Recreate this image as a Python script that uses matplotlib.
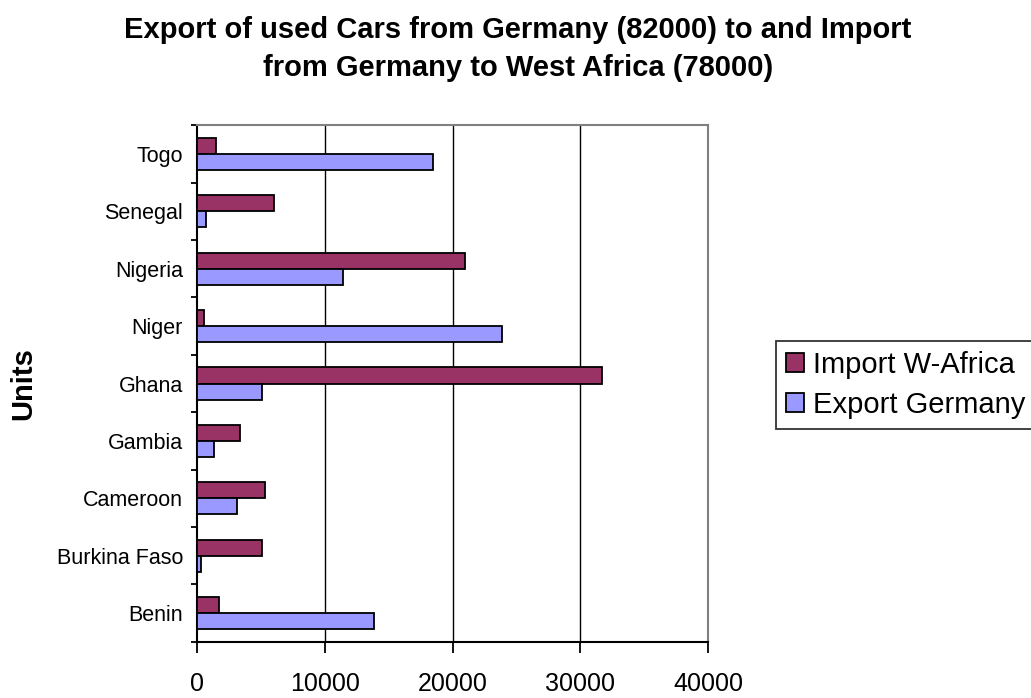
import matplotlib
matplotlib.use("Agg")
import matplotlib.pyplot as plt
import numpy as np

plt.rcParams['font.family'] = ['Liberation Sans', 'DejaVu Sans']

# data (units)
countries = ["Benin", "Burkina Faso", "Cameroon", "Gambia", "Ghana",
             "Niger", "Nigeria", "Senegal", "Togo"]
import_w_africa = [1700, 5100, 5300, 3400, 31700, 570, 21000, 6000, 1500]
export_germany = [13850, 280, 3100, 1350, 5100, 23900, 11400, 700, 18500]
x_ticks = [0, 10000, 20000, 30000, 40000]

fig = plt.figure(figsize=(10.31, 6.98), dpi=100)
ax = fig.add_axes([197 / 1031, 1 - 641.7 / 698, 511 / 1031, 516.4 / 698])

y = np.arange(len(countries))
bar_h = 0.28
ax.barh(y + bar_h / 2, import_w_africa, height=bar_h, color="#993366",
        edgecolor="black", linewidth=1.3, label="Import W-Africa", zorder=3)
ax.barh(y - bar_h / 2, export_germany, height=bar_h, color="#9999FF",
        edgecolor="black", linewidth=1.3, label="Export Germany", zorder=3)

ax.set_xlim(0, 40000)
ax.set_ylim(-0.5, len(countries) - 0.5)

# vertical gridlines
for v in x_ticks[1:-1]:
    ax.axvline(v, color="black", linewidth=1.0, zorder=1)

ax.set_xticks(x_ticks)
ax.set_xticklabels([str(v) for v in x_ticks], fontsize=18)
ax.tick_params(axis="x", direction="out", length=8, width=1.3, pad=14)

# category boundaries as major ticks, names on minor ticks
ax.set_yticks(np.arange(-0.5, len(countries), 1.0))
ax.set_yticklabels([])
ax.set_yticks(y, minor=True)
ax.set_yticklabels(countries, minor=True, fontsize=15.5)
ax.tick_params(axis="y", which="major", direction="out", length=4.5, width=1.3)
ax.tick_params(axis="y", which="minor", length=0, pad=10)

for side in ("left", "bottom"):
    ax.spines[side].set_color("black")
    ax.spines[side].set_linewidth(1.5)
for side in ("top", "right"):
    ax.spines[side].set_color("#808080")
    ax.spines[side].set_linewidth(1.5)

fig.text(23 / 1031, 1 - 384 / 698, "Units", rotation=90, fontsize=21,
         fontweight="bold", ha="center", va="center")

fig.text(518 / 1031, 1 - 49 / 698,
         "Export of used Cars from Germany (82000) to and Import\n"
         "from Germany to West Africa (78000)",
         ha="center", va="center", fontsize=21, fontweight="bold",
         linespacing=1.45)

leg = fig.legend(loc="upper left", bbox_to_anchor=(776 / 1031, 1 - 341 / 698),
                 fontsize=21, frameon=True, fancybox=False, shadow=False,
                 handlelength=0.62, handleheight=0.62, handletextpad=0.3,
                 labelspacing=0.4, borderpad=0.35, borderaxespad=0)
leg.get_frame().set_edgecolor("black")
leg.get_frame().set_linewidth(1.3)

fig.savefig("out.png", dpi=100)
